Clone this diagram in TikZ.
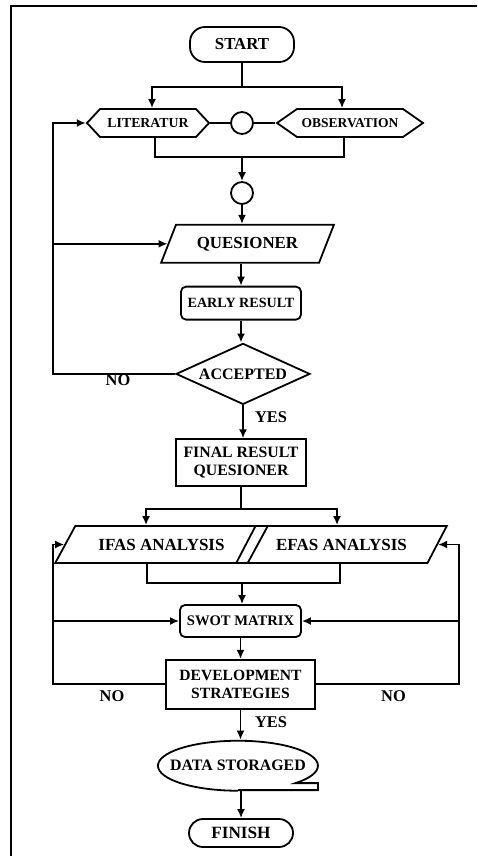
\documentclass[tikz,border=0pt]{standalone}
\usepackage{fontspec}
\setmainfont{Liberation Serif}
\usetikzlibrary{positioning, calc, shapes.geometric, shapes.symbols, arrows.meta}
\newcommand{\bsz}[1]{\bfseries\fontsize{#1}{18}\selectfont}

\begin{document}
\begin{tikzpicture}[x=1pt, y=-1pt,
        base/.style={draw, line width=1.8pt, align=center, inner sep=1pt},
        term/.style={base, rounded corners=15pt, minimum width=104pt},
        proc/.style={base, rounded corners=5pt},
        box/.style={base},
        hexa/.style={base, signal, signal to=west and east, minimum height=28pt},
        iobox/.style={base, trapezium, trapezium stretches=true},
        dot/.style={draw, line width=1.8pt, circle, minimum size=22pt, inner sep=0pt},
        arr/.style={-{Latex[length=9pt, width=8pt]}, line width=1.8pt},
        line/.style={line width=1.8pt},
        lbl/.style={font=\bsz{16.4}},
    ]
    \useasboundingbox (0,0) rectangle (477,856);
    \draw[line] (11,856) -- (11,6) -- (477,6);

    % top part
    \node[term, minimum height=35pt, font=\bsz{16.8}] (start) at (242,44.5) {START};
    \node[hexa, minimum width=122pt, signal pointer angle=94, font=\bsz{13.8}] (lit) at (148,123) {LITERATUR};
    \node[hexa, minimum width=146pt, signal pointer angle=70, font=\bsz{13.5}] (obs) at (350,123) {OBSERVATION};
    \node[dot] (c1) at (242,123) {};
    \node[dot] (c2) at (242,193) {};
    \coordinate (j1) at (242,157);

    \node[iobox, below=19pt of c2, xshift=5.5pt, trapezium left angle=56, trapezium right angle=124,
          minimum width=173pt, minimum height=38pt, font=\bsz{16.9}] (ques) {QUESIONER};
    \node[proc, below=22pt of ques, xshift=-6.5pt, minimum width=120pt, minimum height=33pt,
          font=\bsz{14.1}] (early) {EARLY RESULT};
    \node[base, diamond, aspect=2.2, below=22pt of early, xshift=2pt, minimum width=134pt,
          minimum height=61pt, inner sep=0pt, font=\bsz{16}] (acc) {ACCEPTED};
    \node[box, below=33pt of acc, xshift=-2pt, minimum width=130pt, minimum height=47pt,
          font=\bsz{15.8}] (final) {FINAL RESULT\\QUESIONER};

    % analysis part
    \node[iobox, trapezium left angle=42, trapezium right angle=138, minimum width=213pt,
          minimum height=37pt, font=\bsz{17}] (ifas) at (161.5,544.5) {IFAS ANALYSIS};
    \node[iobox, trapezium left angle=42, trapezium right angle=138, minimum width=211pt,
          minimum height=37pt, font=\bsz{17}] (efas) at (341.5,544.5) {EFAS ANALYSIS};
    \coordinate (j3) at (242,583);
    \node[proc, minimum width=121pt, minimum height=32pt, font=\bsz{14.6}] (swot) at (240.5,621) {SWOT MATRIX};
    \node[box, below=21pt of swot, minimum width=149pt, minimum height=49pt,
          font=\bsz{15.6}] (dev) {DEVELOPMENT\\STRATEGIES};
    \node[minimum width=160pt, minimum height=50pt, inner sep=0pt, below=30pt of dev,
          xshift=-2.5pt, font=\bsz{15.9}] (store) {DATA STORAGED};
    \node[term, below=28pt of store, xshift=3pt, minimum height=28pt, rounded corners=14pt,
          font=\bsz{17.2}] (finish) {FINISH};

    \coordinate (lx) at (53,0);
    \coordinate (rx) at (459,0);

    % storage outline
    \draw[line] (store.south) -- ++(80,0) -- ++(0,-7) -- ++(-22.5,0)
        arc[start angle=44, end angle=-270, x radius=80, y radius=25];

    % connectors
    \draw[line] (start.south) -- ++(0,24) coordinate (sp1);
    \draw[arr] (sp1) -| ($(lit.north)+(4,0)$);
    \draw[arr] (sp1) -| ($(obs.north)+(-8,0)$);
    \draw[line] (lit.east) -- (c1.west);
    \draw[line] (c1.east) -- (obs.west);
    \draw[line] ($(lit.south)+(7,0)$) |- (j1) -| ($(obs.south)+(-6,0)$);
    \draw[arr] (j1) -- (c2.north);
    \draw[arr] (c2.south) -- (c2.south |- ques.north);
    \draw[arr] (early.north |- ques.south) -- (early.north);
    \draw[arr] (early.south) -- (early.south |- acc.north);
    \draw[arr] (acc.south) -- (acc.south |- final.north);
    \draw[arr] (acc.west) -| (lx |- lit.west) -- (lit.west);
    \draw[arr] (lx |- ques.left side) -- (ques.left side);

    \draw[line] (final.south) -- ++(0,22) coordinate (sp2);
    \draw[arr] (sp2) -| ($(ifas.north)+(-15.5,0)$);
    \draw[arr] (sp2) -| ($(efas.north)+(-4.5,0)$);
    \draw[line] ($(ifas.south)+(-14.5,0)$) |- (j3) -| ($(efas.south)+(-1.5,0)$);
    \draw[arr] (j3) -- (j3 |- swot.north);
    \draw[arr] (swot.south) -- (dev.north);
    \draw[arr] (dev.west) -| (lx |- ifas.left side) -- (ifas.left side);
    \draw[arr] (lx |- swot.west) -- (swot.west);
    \draw[arr] (dev.east) -| (rx |- efas.right side) -- (efas.right side);
    \draw[arr] (rx |- swot.east) -- (swot.east);
    \draw[arr] (dev.south) -- (dev.south |- store.north);
    \draw[arr] (finish.north |- store.south) -- (finish.north);

    % labels
    \node[lbl] (no1) at (118,380) {NO};
    \node[lbl] (yes1) at (271,417) {YES};
    \node[lbl] (no2) at (112,696) {NO};
    \node[lbl] (no3) at (393.5,696) {NO};
    \node[lbl] (yes2) at (271,722) {YES};
\end{tikzpicture}
\end{document}
